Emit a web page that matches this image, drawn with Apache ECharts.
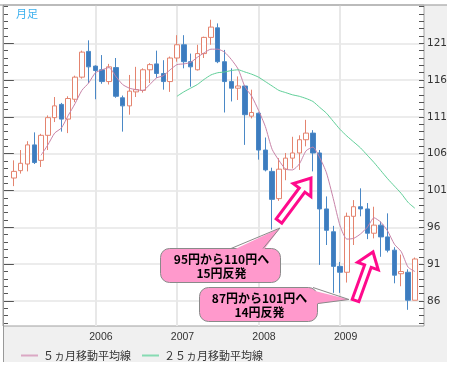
<!DOCTYPE html>
<html><head><meta charset="utf-8">
<script src="https://cdn.jsdelivr.net/npm/echarts@6/dist/echarts.min.js"></script>
<style>html,body{margin:0;padding:0;background:#fff}#c{width:452px;height:366px}</style>
</head><body><div id="c"></div>
<script>
// ---- data (USD/JPY monthly candles) ----
const months = [
'2005/01','2005/02','2005/03','2005/04','2005/05','2005/06','2005/07','2005/08','2005/09','2005/10','2005/11','2005/12',
'2006/01','2006/02','2006/03','2006/04','2006/05','2006/06','2006/07','2006/08','2006/09','2006/10','2006/11','2006/12',
'2007/01','2007/02','2007/03','2007/04','2007/05','2007/06','2007/07','2007/08','2007/09','2007/10','2007/11','2007/12',
'2008/01','2008/02','2008/03','2008/04','2008/05','2008/06','2008/07','2008/08','2008/09','2008/10','2008/11','2008/12',
'2009/01','2009/02','2009/03','2009/04','2009/05','2009/06','2009/07','2009/08','2009/09','2009/10','2009/11','2009/12'];
const openVals = [102.7,103.7,104.6,107.2,105.1,108.5,110.9,112.7,110.7,113.4,116.4,119.9,
117.9,117.4,115.8,117.7,113.6,112.5,114.4,114.6,117.4,118.2,116.9,115.8,
119.0,120.8,118.5,117.4,119.6,121.8,123.1,118.5,115.8,114.9,115.2,111.1,
111.5,106.5,103.6,99.9,103.9,105.4,106.1,107.9,108.8,106.1,98.5,95.4,
90.7,89.9,97.5,98.8,98.5,95.2,96.3,94.7,92.9,89.7,89.9,86.1];
const closeVals = [103.6,104.7,107.2,104.8,108.5,110.9,112.5,110.7,113.5,116.4,119.8,117.8,
117.3,115.8,117.8,113.8,112.5,114.5,114.7,117.4,118.1,116.9,115.8,119.0,
120.8,118.5,117.8,119.6,121.8,123.2,118.5,115.8,114.9,115.2,111.3,111.6,
106.5,103.8,99.8,103.9,105.4,106.1,107.9,108.8,106.1,98.5,95.6,90.7,
89.9,97.5,98.8,98.5,95.2,96.3,94.7,92.9,89.5,90.0,86.1,91.7];
const lowVals = [101.6,103.3,103.6,104.6,104.2,106.5,110.3,109.0,108.8,113.0,116.2,115.6,
113.4,115.5,115.4,113.6,109.0,111.3,113.7,114.3,115.6,116.3,114.7,114.4,
118.5,117.6,115.1,117.3,119.0,120.8,118.3,111.6,113.1,113.3,107.2,110.8,
105.2,103.6,95.7,99.6,102.4,104.0,103.8,107.0,103.6,90.9,93.6,87.1,
87.1,88.5,93.6,97.5,94.4,94.5,92.0,92.6,88.4,88.0,84.8,86.1];
const highVals = [105.1,106.5,107.7,108.9,108.7,111.2,113.7,112.9,113.8,116.6,120.0,121.4,
118.0,119.4,118.2,119.0,113.9,116.7,117.8,117.6,118.3,120.0,118.7,119.2,
122.1,122.1,119.6,120.8,121.9,124.2,123.7,120.1,117.6,116.5,115.3,114.7,
111.6,108.2,104.1,105.4,106.1,108.3,108.5,110.6,109.2,106.5,100.2,96.2,
91.3,98.0,99.7,101.3,99.3,98.8,96.8,97.9,93.3,92.3,90.3,91.9];
const ma5Vals = [null,null,null,null,
105.8,107.2,108.8,109.5,111.2,112.8,114.6,115.6,117.0,117.4,117.7,116.5,115.4,114.9,114.7,114.6,
115.4,116.3,116.6,117.4,118.1,118.2,118.4,119.1,119.7,120.2,120.2,119.8,118.8,117.5,115.1,113.8,
111.9,109.7,106.6,105.1,103.9,103.8,104.6,106.4,106.9,105.5,103.4,99.9,96.2,94.4,94.5,95.1,
96.0,97.3,96.7,95.5,93.7,92.7,90.6,90.0];
const ma25Vals = [null,null,null,null,null,null,null,null,null,null,null,null,
null,null,null,null,null,null,null,null,null,null,null,null,
113.8,114.4,114.9,115.4,116.1,116.7,117.0,117.1,117.3,117.4,117.1,116.8,
116.4,115.8,115.2,114.6,114.3,114.0,113.8,113.5,113.1,112.3,111.5,110.4,
109.3,108.4,107.6,106.8,105.8,104.8,103.7,102.6,101.6,100.6,99.4,98.6];
const yMajorTicks = [86,91,96,101,106,111,116,121];
const yearTickIdx = [12,24,36,48];
const seriesNames = ['５ヵ月移動平均線','２５ヵ月移動平均線'];
const chartTitle = '月足';
const notes = [['95円から110円へ','15円反発'],['87円から101円へ','14円反発']];

// ---- chart ----
const yMin = 82.6, yMax = 126.2;
const yMinorTicks = [];
for (let v = Math.ceil(yMin); v <= Math.floor(yMax); v++) yMinorTicks.push(v);
const NUM = "'DejaVu Sans', Verdana, sans-serif";
const JP = "'Noto Sans CJK JP', sans-serif";

function yAx(pos, ticks, len, major) {
  return {
    type: 'value', position: pos, min: yMin, max: yMax,
    axisLine: {show: false},
    axisTick: {show: true, inside: true, length: len, customValues: ticks, lineStyle: {color: '#555', width: 1}},
    axisLabel: (major && pos === 'right') ? {show: true, customValues: ticks, color: '#333', fontSize: 10.5, fontFamily: NUM, margin: 3} : {show: false},
    splitLine: (major && pos === 'right') ? {show: true, lineStyle: {color: '#e6e6e6', width: 1.5}} : {show: false}
  };
}

const candleData = months.map((m, i) => [i, openVals[i], closeVals[i], lowVals[i], highVals[i]]);
const lineData = arr => arr.map((v, i) => [i, v]).filter(p => p[1] !== null);

const chart = echarts.init(document.getElementById('c'));
chart.setOption({
  animation: false,
  grid: {left: 3, right: 28, top: 5, bottom: 40, show: true, backgroundColor: '#fff', borderColor: '#a0a0a0', borderWidth: 1, containLabel: false, outerBoundsMode: 'none'},
  xAxis: {
    type: 'value', min: -1.6, max: 60.35,
    axisLine: {show: false},
    axisTick: {show: false, customValues: yearTickIdx},
    axisLabel: {customValues: yearTickIdx, formatter: v => months[Math.round(v)].slice(0, 4), fontFamily: "'Liberation Sans', Arial, sans-serif", fontSize: 10.5, color: '#333', margin: 6, padding: [0, 0, 0, 11]},
    splitLine: {show: true, lineStyle: {color: '#e8e8e8', width: 2}}
  },
  yAxis: [yAx('right', yMajorTicks, 9, true), yAx('right', yMinorTicks, 5, false), yAx('left', yMajorTicks, 9, true), yAx('left', yMinorTicks, 5, false)],
  legend: {
    left: 16, top: 345, icon: 'rect', itemWidth: 17, itemHeight: 2, itemGap: 11,
    textStyle: {fontFamily: JP, fontSize: 11, color: '#333'},
    data: seriesNames
  },
  series: [
    {type: 'candlestick', name: 'price', yAxisIndex: 0, barWidth: 5,
     dimensions: ['idx', 'open', 'close', 'low', 'high'], encode: {x: 0, y: [1, 2, 3, 4]},
     itemStyle: {color: '#ffffff', color0: '#3d7cbf', borderColor: '#e4846f', borderColor0: '#4a88c6', borderWidth: 1},
     data: candleData},
    {type: 'line', name: seriesNames[0], yAxisIndex: 0, data: lineData(ma5Vals), symbol: 'none', smooth: 0.2,
     lineStyle: {color: '#c883a8', width: 1}, itemStyle: {color: '#dba8c4'}},
    {type: 'line', name: seriesNames[1], yAxisIndex: 0, data: lineData(ma25Vals), symbol: 'none', smooth: 0.2,
     lineStyle: {color: '#5fcf98', width: 1}, itemStyle: {color: '#86dbb2'}}
  ]
});

// ---- annotation overlays ----
function arrow(tail, tip, w, h, L) {
  const dx = tip[0] - tail[0], dy = tip[1] - tail[1], len = Math.hypot(dx, dy);
  const d = [dx / len, dy / len], n = [-d[1], d[0]];
  const b = [tip[0] - d[0] * L, tip[1] - d[1] * L];
  const p = (o, s, k) => [o[0] + n[0] * s * k, o[1] + n[1] * s * k];
  return {type: 'polygon', z: 110,
    shape: {points: [p(tail, w, 1), p(b, w, 1), p(b, h, 1), tip, p(b, h, -1), p(b, w, -1), p(tail, w, -1)]},
    style: {fill: '#ffffff', stroke: '#ff0a8c', lineWidth: 3, lineJoin: 'miter'}};
}
function callout(box, tailFill, tailLine, lines, cy) {
  return [
    {type: 'rect', z: 100, shape: {x: box[0], y: box[1], width: box[2], height: box[3], r: 9}, style: {fill: '#ff99cc', stroke: '#8a8a8a', lineWidth: 1}},
    {type: 'polygon', z: 101, shape: {points: tailFill}, style: {fill: '#ff99cc'}},
    {type: 'polyline', z: 102, shape: {points: tailLine}, style: {stroke: '#8a8a8a', fill: null, lineWidth: 1}},
    {type: 'text', z: 103, style: {text: lines.join('\n'), x: box[0] + box[2] / 2 + 1, y: cy, align: 'center', verticalAlign: 'middle', font: "bold 12px 'Noto Sans CJK JP'", fill: '#000', lineHeight: 14}}
  ];
}
const g = [
  {type: 'rect', z: -5, silent: true, shape: {x: 3, y: 5, width: 444, height: 357}, style: {fill: '#f0f0f0'}},
  {type: 'line', z: 50, shape: {x1: 0, y1: 5, x2: 447, y2: 5}, style: {stroke: '#b4b4b4', lineWidth: 1.5}},
  {type: 'line', z: 50, shape: {x1: 3.5, y1: 5, x2: 3.5, y2: 362}, style: {stroke: '#999', lineWidth: 1}},
  {type: 'text', z: 50, style: {text: chartTitle, x: 16, y: 14, verticalAlign: 'middle', font: "11px 'Noto Sans CJK JP'", fill: '#3cb0ee'}},
  arrow([279, 221], [311, 178], 3.5, 11, 15),
  arrow([355.5, 300.5], [373, 252], 3.5, 11, 15)
].concat(
  callout([160.5, 248.5, 120, 34], [[231, 251], [280, 228], [263, 251]], [[231, 248.5], [280, 228], [263, 248.5]], notes[0], 266.5),
  callout([199.5, 287.5, 118, 34], [[311, 290], [349, 299.5], [315, 304]], [[313, 287.5], [349, 299.5], [318, 303.5]], notes[1], 305)
);
chart.setOption({graphic: g});
</script></body></html>
